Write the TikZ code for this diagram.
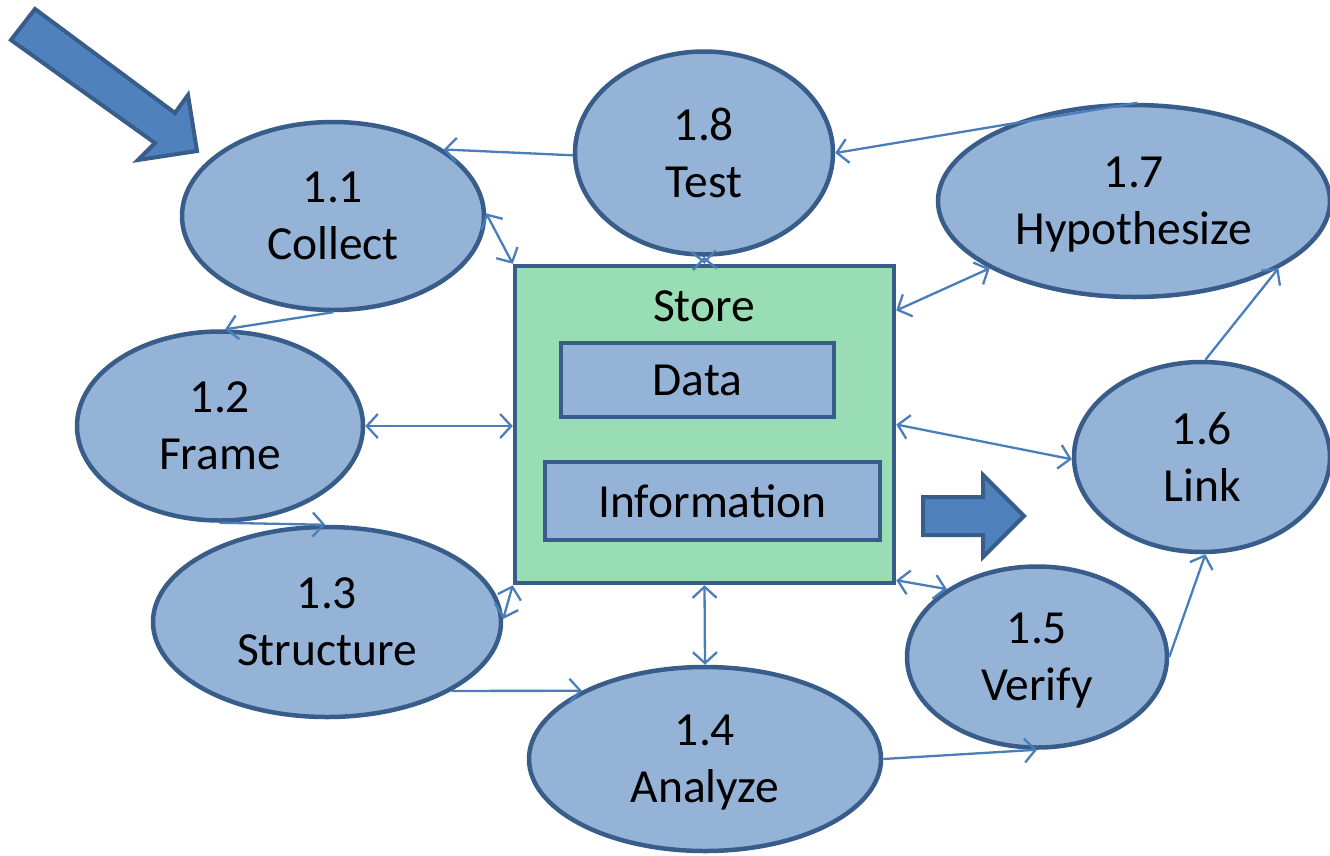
\documentclass[tikz,border=0pt]{standalone}
\usepackage{fontspec}
\setmainfont{Carlito}
\usetikzlibrary{shapes.geometric,arrows.meta,calc}

\definecolor{bubble}{RGB}{149,179,215}
\definecolor{rim}{RGB}{56,93,138}
\definecolor{storefill}{RGB}{153,221,181}
\definecolor{link}{RGB}{74,126,187}
\definecolor{bigarrow}{RGB}{79,129,189}

\tikzset{
  stage/.style={ellipse, draw=rim, fill=bubble, line width=4.5pt, inner sep=0pt,
    align=center, font=\fontsize{47.5}{57}\selectfont, text depth=-2pt},
  box/.style={rectangle, draw=rim, line width=4.5pt, inner sep=0pt,
    font=\fontsize{47.5}{57}\selectfont},
  flow/.style={draw=link, line width=2.3pt,
    -{Straight Barb[length=11pt,width=24pt]}},
  both/.style={flow, {Straight Barb[length=11pt,width=24pt]}-{Straight Barb[length=11pt,width=24pt]}},
  blockarrow/.style={fill=bigarrow, draw=rim, line width=4pt, line join=miter}
}

\begin{document}
\begin{tikzpicture}[x=1pt,y=-1pt]
\useasboundingbox (0,0) rectangle (1330,855);

% central store with its two inner boxes
\node[box, fill=storefill, minimum width=379pt, minimum height=317pt] (store) at (704.5,424.5) {};
\node[font=\fontsize{47.5}{57}\selectfont] (storelbl) at (704,306) {Store};
\node[box, fill=bubble, minimum width=273pt, minimum height=74pt] (data) at (697.5,380) {Data};
\node[box, fill=bubble, minimum width=335pt, minimum height=78pt] (info) at (712.5,501) {Information};

% process stages
\node[stage, minimum width=302pt, minimum height=188pt] (collect) at (333,216) {1.1\\Collect};
\node[stage, minimum width=258pt, minimum height=203pt] (test) at (704,153) {1.8\\Test};
\node[stage, minimum width=392pt, minimum height=192pt] (hypo) at (1134,201) {1.7\\Hypothesize};
\node[stage, minimum width=286pt, minimum height=189pt] (frame) at (220,426) {1.2\\Frame};
\node[stage, minimum width=348pt, minimum height=190pt] (struct) at (327,622) {1.3\\Structure};
\node[stage, minimum width=352pt, minimum height=184pt] (analyze) at (705,759) {1.4\\Analyze};
\node[stage, minimum width=260pt, minimum height=181pt] (verify) at (1037,657) {1.5\\Verify};
\node[stage, minimum width=256pt, minimum height=190pt] (linkn) at (1202,457) {1.6\\Link};

% connectors
\draw[flow] (test.181) -- (collect.31.6);
\draw[both] (collect.1.5) -- (store.north west);
\draw[both] (test.south) -- (store.north);
\draw[flow] (hypo.88) -- (test.-0.9);
\draw[both] ([yshift=114pt]store.east) -- (hypo.205.7);
\draw[flow] (collect.south) -- (frame.87);
\draw[both] (frame.east) -- (frame.east -| store.west);
\draw[flow] (frame.south) -- (struct.91);
\draw[both] (struct.1.3) -- (store.south west);
\draw[flow] (struct.-29) -- (analyze.151.8);
\draw[both] (store.south) -- (analyze.north);
\draw[both] ([yshift=5pt]store.south east) -- (verify.143);
\draw[flow] (analyze.east) -- (verify.south);
\draw[flow] (verify.east) -- (linkn.-88);
\draw[flow] (linkn.88) -- (hypo.-25.9);
\draw[both] (store.east) -- (linkn.181.3);

% block arrows
\draw[blockarrow] (35,9) -- (175,113) -- (188,95) -- (197,151) -- (138,160) -- (155,143) -- (11,40) -- cycle;
\draw[blockarrow] (923,497) -- (983,497) -- (983,475) -- (1024,516) -- (983,557) -- (983,535) -- (923,535) -- cycle;
\end{tikzpicture}
\end{document}
